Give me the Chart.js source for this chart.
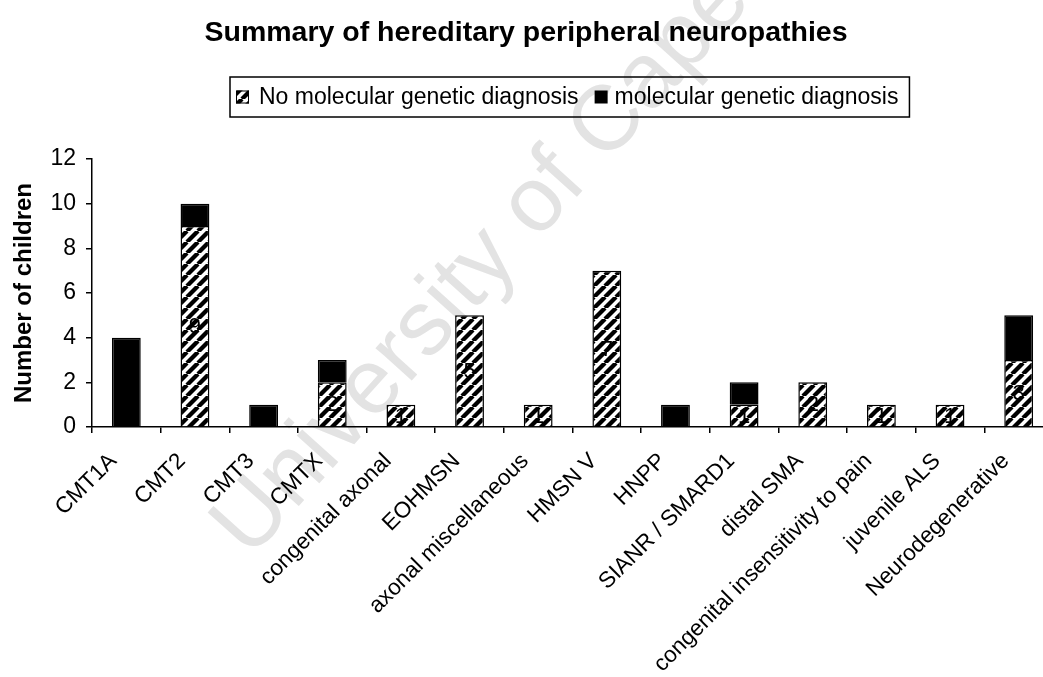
<!DOCTYPE html>
<html>
<head>
<meta charset="utf-8">
<title>Summary of hereditary peripheral neuropathies</title>
<script src="https://cdn.jsdelivr.net/npm/chart.js@4.4.1/dist/chart.umd.min.js"></script>
<style>
  html, body { margin: 0; padding: 0; background: #fff; overflow: hidden; }
  #chart { display: block; }
</style>
</head>
<body>
<canvas id="chart" width="1058" height="677"></canvas>
<script>
const categories = ['CMT1A', 'CMT2', 'CMT3', 'CMTX', 'congenital axonal', 'EOHMSN',
  'axonal miscellaneous', 'HMSN V', 'HNPP', 'SIANR / SMARD1', 'distal SMA',
  'congenital insensitivity to pain', 'juvenile ALS', 'Neurodegenerative'];
const noMolecular = [0, 9, 0, 2, 1, 5, 1, 7, 0, 1, 2, 1, 1, 3];
const molecular = [4, 1, 1, 1, 0, 0, 0, 0, 1, 1, 0, 0, 0, 2];
const yTicks = [0, 2, 4, 6, 8, 10, 12];
const seriesNames = ['No molecular genetic diagnosis', 'molecular genetic diagnosis'];

const FONT = 'Arial, "Liberation Sans", sans-serif';

// diagonal "/" stripes for the undiagnosed part of each bar
function makeHatch() {
  const s = 11;
  const c = document.createElement('canvas');
  c.width = s; c.height = s;
  const g = c.getContext('2d');
  g.fillStyle = '#fff';
  g.fillRect(0, 0, s, s);
  g.strokeStyle = '#000';
  g.lineWidth = 4.3;
  g.beginPath();
  for (let k = -1; k <= 1; k++) {
    g.moveTo(k * s, s);
    g.lineTo(k * s + s, 0);
  }
  g.stroke();
  return g.createPattern(c, 'repeat');
}

const ctx = document.getElementById('chart').getContext('2d');
const hatch = makeHatch();

const decorations = {
  id: 'decorations',
  beforeDraw(chart) {
    const c = chart.ctx;
    c.save();
    c.fillStyle = '#fff';
    c.fillRect(0, 0, chart.width, chart.height);
    // faint watermark behind everything
    c.translate(250, 560);
    c.rotate(-48 * Math.PI / 180);
    c.font = '92px ' + FONT;
    c.fillStyle = '#e3e3e3';
    c.textBaseline = 'alphabetic';
    c.fillText('University of Cape Town', 0, 0);
    c.restore();
  },
  afterDatasetsDraw(chart) {
    // counts written inside the hatched segments
    const c = chart.ctx;
    const meta = chart.getDatasetMeta(0);
    c.save();
    c.font = '22px ' + FONT;
    c.fillStyle = '#000';
    c.textAlign = 'center';
    c.textBaseline = 'middle';
    meta.data.forEach((bar, i) => {
      if (!noMolecular[i]) return;
      c.fillText(String(noMolecular[i]), bar.x, (bar.y + bar.base) / 2 + 1);
    });
    c.restore();
  },
  afterDraw(chart) {
    const c = chart.ctx;
    c.save();
    // title
    c.font = 'bold 28.5px ' + FONT;
    c.fillStyle = '#000';
    c.textAlign = 'center';
    c.textBaseline = 'middle';
    c.fillText('Summary of hereditary peripheral neuropathies', 526, 33);

    // legend in a framed box
    c.font = '23px ' + FONT;
    c.textAlign = 'left';
    const box = 13, gapIn = 10, gapOut = 16, padL = 6, padR = 11;
    const w0 = c.measureText(seriesNames[0]).width;
    const w1 = c.measureText(seriesNames[1]).width;
    const total = padL + box + gapIn + w0 + gapOut + box + gapIn - 3 + w1 + padR;
    const left = 230, top = 77, h = 40, mid = top + h / 2;
    c.lineWidth = 1.5;
    c.strokeStyle = '#000';
    c.strokeRect(left, top, total, h);
    let x = left + padL;
    c.fillStyle = hatch;
    c.fillRect(x, mid - box / 2, box, box);
    c.lineWidth = 1;
    c.strokeRect(x + 0.5, mid - box / 2 + 0.5, box - 1, box - 1);
    x += box + gapIn;
    c.fillStyle = '#000';
    c.fillText(seriesNames[0], x, mid + 1);
    x += w0 + gapOut;
    c.fillRect(x, mid - box / 2, box, box);
    x += box + gapIn - 3;
    c.fillText(seriesNames[1], x, mid + 1);
    c.restore();
  }
};

const chart = new Chart(ctx, {
  type: 'bar',
  data: {
    labels: categories,
    datasets: [{
      label: seriesNames[0],
      data: noMolecular,
      backgroundColor: hatch,
      borderColor: '#000',
      borderWidth: 1.5,
      barPercentage: 0.42,
      categoryPercentage: 1
    }, {
      label: seriesNames[1],
      data: molecular,
      backgroundColor: '#000',
      borderColor: '#000',
      borderWidth: 1.5,
      barPercentage: 0.42,
      categoryPercentage: 1
    }]
  },
  options: {
    responsive: false,
    animation: false,
    layout: { padding: { top: 159, right: 5, left: 0, bottom: 0 } },
    plugins: {
      legend: { display: false },
      title: { display: false },
      tooltip: { enabled: false }
    },
    scales: {
      x: {
        stacked: true,
        grid: { drawOnChartArea: false, offset: true, tickLength: 6, color: '#000', lineWidth: 1.5 },
        border: { color: '#000', width: 1.5 },
        ticks: {
          autoSkip: false, minRotation: 45, maxRotation: 45, padding: 15, labelOffset: -13,
          color: '#000', font: { family: FONT, size: 22.5 }
        },
        afterFit(scale) { scale.height = 250; }
      },
      y: {
        stacked: true,
        min: 0,
        max: 12,
        afterBuildTicks(axis) { axis.ticks = yTicks.map(v => ({ value: v })); },
        grid: { drawOnChartArea: false, tickLength: 6, color: '#000', lineWidth: 1.5 },
        border: { color: '#000', width: 1.5 },
        ticks: { padding: 10, color: '#000', font: { family: FONT, size: 23 } },
        title: {
          display: true, text: 'Number of children', color: '#000',
          padding: { top: 10, bottom: 0 },
          font: { family: FONT, size: 24, weight: 'bold' }
        },
        afterFit(scale) { scale.width = 92; }
      }
    }
  },
  plugins: [decorations]
});
</script>
</body>
</html>
